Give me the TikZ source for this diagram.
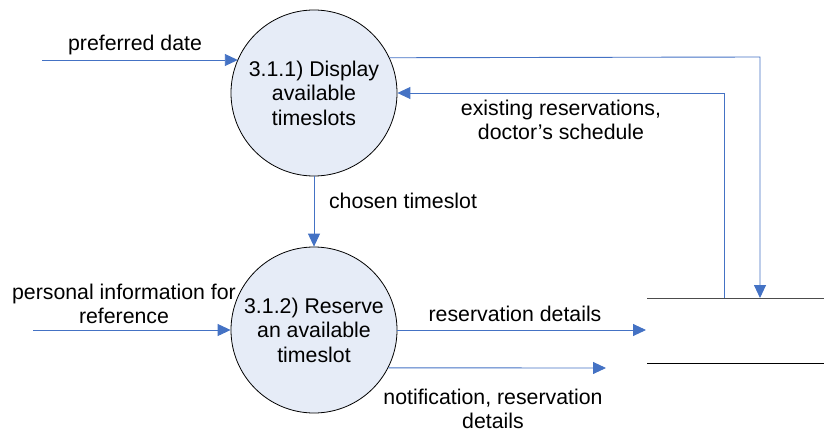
\documentclass[tikz,border=0pt]{standalone}
\usepackage{fontspec}
\setmainfont{Liberation Sans}
\usetikzlibrary{arrows.meta}
\definecolor{flowblue}{RGB}{68,114,196}
\definecolor{procfill}{RGB}{230,236,247}
\tikzset{
  process/.style={circle, draw=black, line width=0.8pt, fill=procfill,
    minimum size=166pt, inner sep=0pt, align=center},
  flow/.style={draw=flowblue, line width=0.9pt,
    -{Triangle[length=13pt,width=12pt]}},
  lbl/.style={align=center, inner sep=0pt}
}
\begin{document}
\begin{tikzpicture}[x=1pt,y=-1pt,font=\fontsize{21.3}{24.5}\selectfont]
        \useasboundingbox (0,0) rectangle (824,433);

        % Coordinates
        \coordinate (pdin) at (42,60);
        \coordinate (piin) at (33,330);
        \coordinate (bend) at (760,57);
        \coordinate (storein) at (760,298);
        \coordinate (storeout) at (724,298);
        \coordinate (rdout) at (646,330);
        \coordinate (ntout) at (606,368);
        \coordinate (S1) at (647,298);
        \coordinate (S2) at (824,298);
        \coordinate (S3) at (647,363);
        \coordinate (S4) at (824,363);

        % Processes
        \node[process] (disp) at (314,93) {3.1.1) Display\\available\\timeslots};
        \node[process] (res) at (314,330) {3.1.2) Reserve\\an available\\timeslot};

        % Data store
        \draw[line width=0.9pt, black!70] (S1) -- (S2);
        \draw[line width=0.9pt, black] (S3) -- (S4);

        % Flows
        \draw[flow] (pdin) -- (pdin -| disp.156.5);
        \draw[flow] (disp.25.7) -- (bend) -- (storein);
        \draw[flow] (storeout) |- (disp.east);
        \draw[flow] (disp) -- (res);
        \draw[flow] (piin) -- (res.west);
        \draw[flow] (res.east) -- (rdout);
        \draw[flow] (res.-27.2) -- (ntout);

        % Labels
        \node[lbl] (pdlbl) at (135,45) {preferred date};
        \node[lbl] (exlbl) at (561,120) {existing reservations,\\doctor’s schedule};
        \node[lbl] (chlbl) at (403,201) {chosen timeslot};
        \node[lbl] (pilbl) at (124,304) {personal information for\\reference};
        \node[lbl] (rdlbl) at (515,314) {reservation details};
        \node[lbl] (ntlbl) at (493,409) {notification, reservation\\details};
    \end{tikzpicture}
\end{document}
